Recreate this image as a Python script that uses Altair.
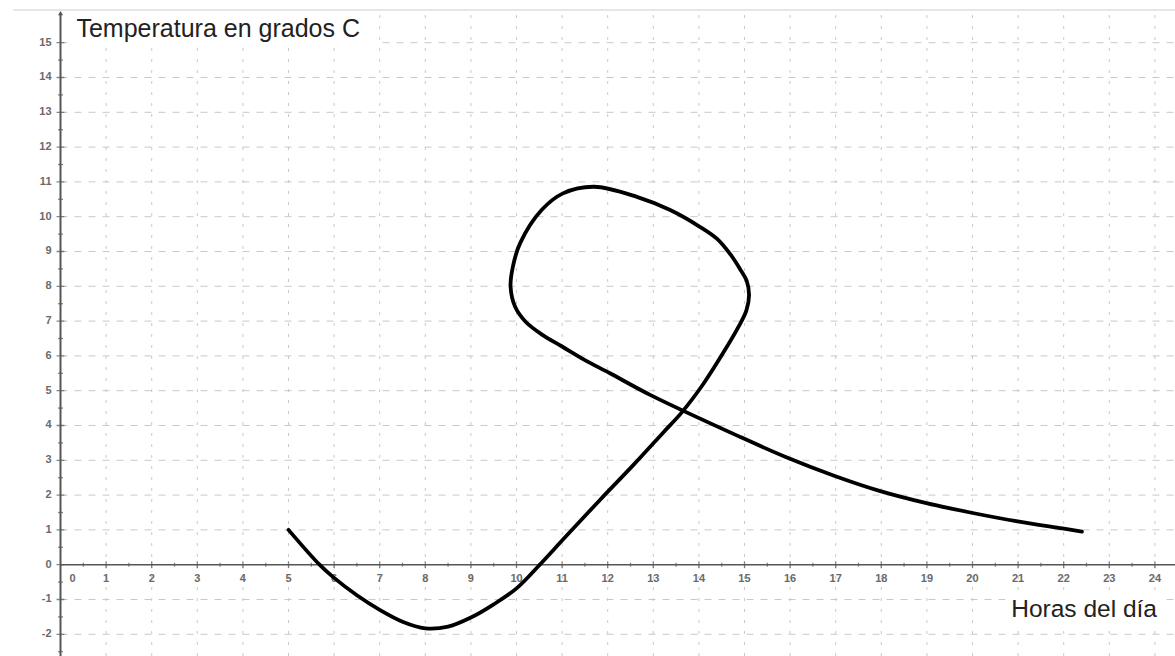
import altair as alt
import pandas as pd

# Temperature curve: (hour of day, degrees C) in drawing order
hora = [5.0, 5.68, 6.0, 6.5, 7.0, 7.5, 8.0, 8.5, 9.0, 9.5, 10.0,
        10.51, 11.06, 11.83, 12.56, 13.22, 13.62, 14.1, 14.53, 14.87, 15.04,
        15.1, 15.05, 14.9, 14.7, 14.4, 14.02, 13.37, 12.64, 11.7, 11.02, 10.55,
        10.08, 9.92, 9.87, 9.97, 10.2, 10.55, 11.0, 11.5, 12.05, 12.93,
        14.89, 15.93, 16.98, 17.94, 18.99, 19.95, 20.96, 21.97, 22.4]
temp = [1.0, 0.0, -0.38, -0.88, -1.3, -1.64, -1.83, -1.78, -1.52, -1.14, -0.68,
        0.0, 0.78, 1.86, 2.86, 3.8, 4.37, 5.2, 6.08, 6.84, 7.3,
        7.75, 8.15, 8.5, 8.9, 9.36, 9.71, 10.19, 10.57, 10.86, 10.67, 10.19,
        9.24, 8.56, 7.99, 7.41, 6.98, 6.62, 6.27, 5.88, 5.5, 4.88,
        3.68, 3.08, 2.55, 2.13, 1.77, 1.5, 1.25, 1.04, 0.95]

# Axis tick values and labels
x_ticks = list(range(0, 25))
y_ticks = list(range(-2, 16))
x_minor = [i + 0.5 for i in range(0, 24)]
y_minor = [i + 0.5 for i in range(-3, 15)]

titulo_y = "Temperatura en grados C"
titulo_x = "Horas del día"

# Visible window of the coordinate plane
X_MIN, X_MAX = -1.327, 24.441
Y_MIN, Y_MAX = -2.624, 16.227
Y_TOP = 15.94      # upper edge of the graphics view
Y_AXIS_TOP = 15.85

W, H = 1175, 656

xs = alt.Scale(domain=[X_MIN, X_MAX], nice=False, zero=False)
ys = alt.Scale(domain=[Y_MIN, Y_MAX], nice=False, zero=False)


def X(field, **kw):
    return alt.X(field, type="quantitative", scale=xs, axis=None, **kw)


def Y(field, **kw):
    return alt.Y(field, type="quantitative", scale=ys, axis=None, **kw)


GRID = "#c9c9c9"
AXIS = "#555555"
LABEL = "#6a6a6a"
FONT = "Liberation Sans"

# Grid lines
hgrid = alt.Chart(pd.DataFrame({"y": [v for v in y_ticks if v != 0],
                                "x0": 0.0, "x1": X_MAX})).mark_rule(
    color=GRID, strokeWidth=1, strokeDash=[7, 7]
).encode(y=Y("y"), x=X("x0"), x2="x1")

vgrid = alt.Chart(pd.DataFrame({"x": [v for v in x_ticks if v != 0],
                                "y0": Y_MIN, "y1": Y_TOP})).mark_rule(
    color=GRID, strokeWidth=1, strokeDash=[3, 8]
).encode(x=X("x"), y=Y("y0"), y2="y1")

top_edge = alt.Chart(pd.DataFrame({"x0": [-1.04], "x1": [X_MAX], "y": [Y_TOP]})).mark_rule(
    color="#dedede", strokeWidth=1.5
).encode(x=X("x0"), x2="x1", y=Y("y"))

# White boxes behind the two axis captions
boxes = alt.Chart(pd.DataFrame({
    "x0": [0.15, 20.72], "x1": [6.95, 24.2],
    "y0": [14.94, -1.67], "y1": [Y_TOP - 0.03, -0.81],
})).mark_rect(color="white").encode(x=X("x0"), x2="x1", y=Y("y0"), y2="y1")

# Axes
x_axis = alt.Chart(pd.DataFrame({"x0": [0.0], "x1": [X_MAX], "y": [0.0]})).mark_rule(
    color=AXIS, strokeWidth=1.6
).encode(x=X("x0"), x2="x1", y=Y("y"))

y_axis = alt.Chart(pd.DataFrame({"x": [0.0], "y0": [Y_MIN], "y1": [Y_AXIS_TOP]})).mark_rule(
    color=AXIS, strokeWidth=2
).encode(x=X("x"), y=Y("y0"), y2="y1")

arrow = alt.Chart(pd.DataFrame({"x": [0.0], "y": [Y_AXIS_TOP]})).mark_point(
    shape="triangle-up", filled=True, color=AXIS, size=25, opacity=1
).encode(x=X("x"), y=Y("y"))

# Tick marks on the axes
x_major = alt.Chart(pd.DataFrame({"x": x_ticks[1:], "y": 0.0})).mark_tick(
    orient="vertical", color=AXIS, size=7, thickness=1.3
).encode(x=X("x"), y=Y("y"))
x_half = alt.Chart(pd.DataFrame({"x": x_minor, "y": 0.0})).mark_tick(
    orient="vertical", color=AXIS, size=4, thickness=1.3
).encode(x=X("x"), y=Y("y"))
y_major = alt.Chart(pd.DataFrame({"y": y_ticks, "x": 0.0})).mark_tick(
    orient="horizontal", color=AXIS, size=8, thickness=1.3
).encode(x=X("x"), y=Y("y"))
y_half = alt.Chart(pd.DataFrame({"y": y_minor, "x": 0.0})).mark_tick(
    orient="horizontal", color=AXIS, size=5, thickness=1.3
).encode(x=X("x"), y=Y("y"))

# Tick labels
x_lab = alt.Chart(pd.DataFrame({"x": x_ticks[1:], "y": 0.0,
                                "t": [str(v) for v in x_ticks[1:]]})).mark_text(
    font=FONT, fontSize=11, fontWeight="bold", color=LABEL, dy=14, baseline="middle"
).encode(x=X("x"), y=Y("y"), text="t:N")
x_lab0 = alt.Chart(pd.DataFrame({"x": [0.0], "y": [0.0], "t": ["0"]})).mark_text(
    font=FONT, fontSize=11, fontWeight="bold", color=LABEL, dx=12, dy=14, baseline="middle"
).encode(x=X("x"), y=Y("y"), text="t:N")
y_lab = alt.Chart(pd.DataFrame({"y": y_ticks, "x": 0.0,
                                "t": [str(v) for v in y_ticks]})).mark_text(
    font=FONT, fontSize=11, fontWeight="bold", color=LABEL, dx=-9, align="right",
    baseline="middle"
).encode(x=X("x"), y=Y("y"), text="t:N")

# Axis captions
cap_y = alt.Chart(pd.DataFrame({"x": [0.35], "y": [15.17], "t": [titulo_y]})).mark_text(
    font=FONT, fontSize=25, color="#222222", align="left", baseline="alphabetic"
).encode(x=X("x"), y=Y("y"), text="t:N")
cap_x = alt.Chart(pd.DataFrame({"x": [20.85], "y": [-1.505], "t": [titulo_x]})).mark_text(
    font=FONT, fontSize=24.5, color="#222222", align="left", baseline="alphabetic"
).encode(x=X("x"), y=Y("y"), text="t:N")

# The temperature curve itself
curva = alt.Chart(pd.DataFrame({"hora": hora, "temp": temp,
                                "orden": range(len(hora))})).mark_line(
    color="black", strokeWidth=3.8, interpolate="catmull-rom",
    strokeCap="round", strokeJoin="round"
).encode(x=X("hora"), y=Y("temp"), order="orden:Q")

chart = alt.layer(
    hgrid, vgrid, top_edge, boxes, x_axis, y_axis, arrow,
    x_major, x_half, y_major, y_half, x_lab, x_lab0, y_lab,
    cap_y, cap_x, curva
).properties(
    width=W, height=H, padding=0, autosize=alt.AutoSizeParams(type="none"),
    background="white"
).configure_view(stroke=None)

chart.save("out.html", embed_options={"renderer": "svg", "actions": False})
